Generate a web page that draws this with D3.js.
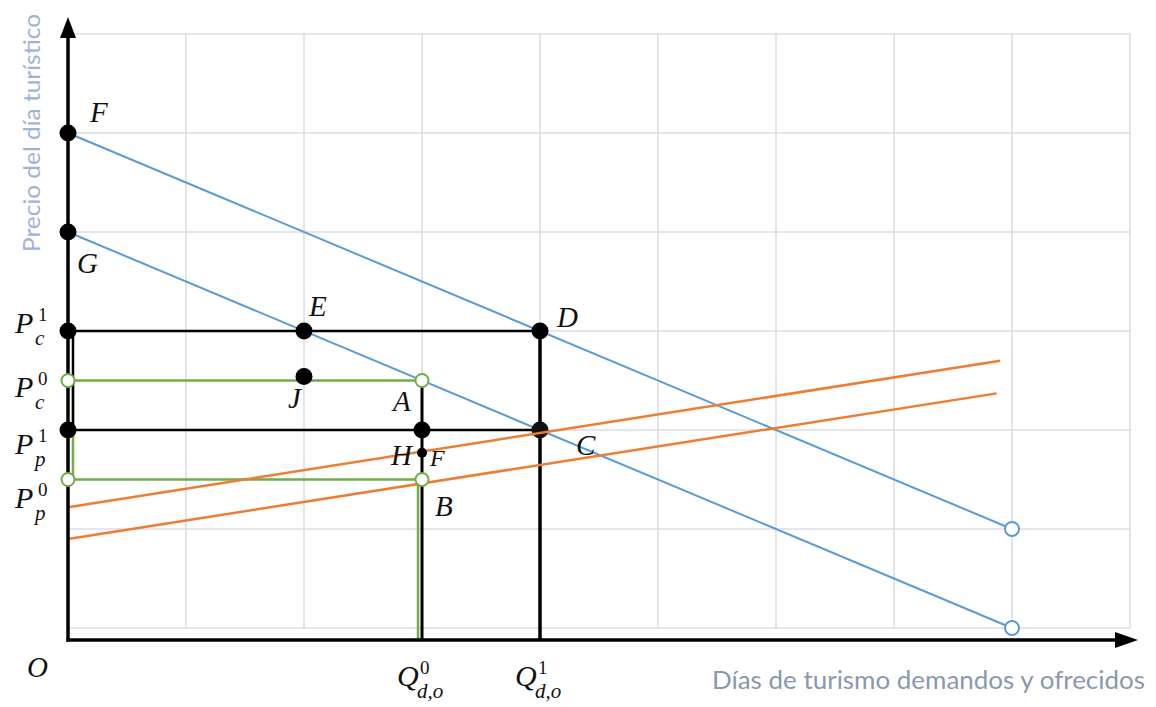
<!DOCTYPE html>
<html>
<head>
<meta charset="utf-8">
<script src="https://cdn.jsdelivr.net/npm/d3@7"></script>
<style>
  html, body { margin: 0; padding: 0; background: #fff; }
  svg { display: block; }
  .math { font-family: "Liberation Serif", "DejaVu Serif", serif; font-style: italic; fill: #111; }
</style>
</head>
<body>
<script>
// grid ticks (data units)
let xTicks = [0, 1, 2, 3, 4, 5, 6, 7, 8, 9]
let yTicks = [0, 1, 2, 3, 4, 5, 6]

// demand curves (blue) and supply curves (orange)
let demandHigh = [[0, 5], [8, 1]]
let demandLow = [[0, 4], [8, 0]]
let supplyHigh = [[0, 1.22], [7.9, 2.7]]
let supplyLow = [[0, 0.9], [7.87, 2.37]]

// equilibrium prices / quantities
let priceC1 = 3, priceC0 = 2.5, priceP1 = 2, priceP0 = 1.5
let qty0 = 3, qty1 = 4

// points
let filledDots = [[0, 5], [0, 4], [0, 3], [2, 3], [4, 3], [0, 2], [3, 2], [2, 2.54]]
let dotC = [4, 2]
let dotH = [3, 1.77]
let openGreen = [[0, priceC0], [qty0, priceC0], [0, priceP0], [qty0, priceP0]]
let openBlue = [[8, 1], [8, 0]]

// point labels
let pointLabels = [
  { t: 'F', at: [0, 5] }, { t: 'G', at: [0, 4] }, { t: 'E', at: [2, 3] },
  { t: 'D', at: [4, 3] }, { t: 'A', at: [3, 2.5] }, { t: 'J', at: [2, 2.54] },
  { t: 'C', at: [4, 2] }, { t: 'B', at: [3, 1.5] }, { t: 'H', at: [3, 1.77] }
]
let priceLabels = [
  { main: 'P', sup: '1', sub: 'c', v: priceC1 },
  { main: 'P', sup: '0', sub: 'c', v: priceC0 },
  { main: 'P', sup: '1', sub: 'p', v: priceP1 },
  { main: 'P', sup: '0', sub: 'p', v: priceP0 }
]
let qtyLabels = [
  { main: 'Q', sup: '0', sub: 'd,o', v: qty0 },
  { main: 'Q', sup: '1', sub: 'd,o', v: qty1 }
]
let xTitle = 'Días de turismo demandos y ofrecidos'
let yTitle = 'Precio del día turístico'

let width = 1156, height = 707
let blue = '#5b9bd5', orange = '#ed7d31', green = '#70ad47'

let x = d3.scaleLinear().domain([0, 9]).range([68, 1130])
let y = d3.scaleLinear().domain([0, 6]).range([628, 34])
let axisY = y(0) + 12

let svg = d3.select('body').append('svg')
  .attr('width', width).attr('height', height)

// grid
let grid = svg.append('g').attr('stroke', '#dcdce4').attr('stroke-width', 1.6)
grid.selectAll('.v').data(xTicks.slice(1)).enter().append('line')
  .attr('x1', d => x(d)).attr('x2', d => x(d))
  .attr('y1', y(0)).attr('y2', y(6))
grid.selectAll('.h').data(yTicks).enter().append('line')
  .attr('x1', x(0)).attr('x2', x(9))
  .attr('y1', d => y(d)).attr('y2', d => y(d))

let line = d3.line().x(d => x(d[0])).y(d => y(d[1]))

// green guides
let g = svg.append('g').attr('stroke', green).attr('stroke-width', 2.5).attr('fill', 'none')
g.append('line').attr('x1', x(0)).attr('x2', x(qty0)).attr('y1', y(priceC0)).attr('y2', y(priceC0))
g.append('line').attr('x1', x(0)).attr('x2', x(qty0)).attr('y1', y(priceP0)).attr('y2', y(priceP0))
g.append('line').attr('x1', x(0) + 5).attr('x2', x(0) + 5).attr('y1', y(priceC0)).attr('y2', y(priceP0))
g.append('line').attr('x1', x(qty0) - 4).attr('x2', x(qty0) - 4).attr('y1', y(priceP0)).attr('y2', axisY)

// black guides
let k = svg.append('g').attr('stroke', '#000').attr('fill', 'none')
k.append('line').attr('stroke-width', 2.5).attr('x1', x(0)).attr('x2', x(qty1)).attr('y1', y(priceC1)).attr('y2', y(priceC1))
k.append('line').attr('stroke-width', 2.5).attr('x1', x(0)).attr('x2', x(qty1)).attr('y1', y(priceP1)).attr('y2', y(priceP1))
k.append('line').attr('stroke-width', 2.5).attr('x1', x(0) + 5).attr('x2', x(0) + 5).attr('y1', y(priceC1)).attr('y2', y(priceP1))
k.append('line').attr('stroke-width', 3).attr('x1', x(qty0)).attr('x2', x(qty0)).attr('y1', y(priceC0)).attr('y2', axisY)
k.append('line').attr('stroke-width', 3.5).attr('x1', x(qty1)).attr('x2', x(qty1)).attr('y1', y(priceC1)).attr('y2', axisY)

// demand
svg.selectAll('.dem').data([demandHigh, demandLow]).enter().append('path')
  .attr('d', line).attr('fill', 'none').attr('stroke', blue).attr('stroke-width', 2)

// dot C sits under the supply line
svg.append('circle').attr('cx', x(dotC[0])).attr('cy', y(dotC[1])).attr('r', 8.5).attr('fill', '#111')

// supply
svg.selectAll('.sup').data([supplyHigh, supplyLow]).enter().append('path')
  .attr('d', line).attr('fill', 'none').attr('stroke', orange).attr('stroke-width', 2.5)

// axes
let ax = svg.append('g')
ax.append('line').attr('x1', x(0)).attr('x2', x(0)).attr('y1', axisY + 1.5).attr('y2', 30)
  .attr('stroke', '#000').attr('stroke-width', 3.5)
ax.append('path').attr('d', `M${x(0)},17 L${x(0) - 8},38 L${x(0) + 8},38 Z`).attr('fill', '#000')
ax.append('line').attr('x1', x(0) - 1.5).attr('x2', 1122).attr('y1', axisY).attr('y2', axisY)
  .attr('stroke', '#000').attr('stroke-width', 3.5)
ax.append('path').attr('d', `M1138,${axisY} L1115,${axisY - 8} L1115,${axisY + 8} Z`).attr('fill', '#000')

// open circles
svg.selectAll('.og').data(openGreen).enter().append('circle')
  .attr('cx', d => x(d[0])).attr('cy', d => y(d[1])).attr('r', 6.5)
  .attr('fill', '#fff').attr('stroke', green).attr('stroke-width', 2)
svg.selectAll('.ob').data(openBlue).enter().append('circle')
  .attr('cx', d => x(d[0])).attr('cy', d => y(d[1])).attr('r', 7)
  .attr('fill', '#fff').attr('stroke', blue).attr('stroke-width', 2)

// filled dots
svg.selectAll('.fd').data(filledDots).enter().append('circle')
  .attr('cx', d => x(d[0])).attr('cy', d => y(d[1])).attr('r', 8.5).attr('fill', '#000')
svg.append('circle').attr('cx', x(dotH[0])).attr('cy', y(dotH[1])).attr('r', 5).attr('fill', '#000')

// point labels
let labelOffset = {
  F: [22, -11], G: [9, 41], E: [5, -15], D: [17, -4], A: [-29, 30],
  J: [-16, 31], C: [36, 25], B: [13, 36], H: [-31, 12]
}
svg.selectAll('.pl').data(pointLabels).enter().append('text')
  .attr('class', 'math').attr('font-size', 29)
  .attr('x', d => x(d.at[0]) + labelOffset[d.t][0])
  .attr('y', d => y(d.at[1]) + labelOffset[d.t][1])
  .text(d => d.t)
// small F next to H
svg.append('text').attr('class', 'math').attr('font-size', 24)
  .attr('x', x(dotH[0]) + 8).attr('y', y(dotH[1]) + 13).text('F')

// origin
svg.append('text').attr('class', 'math').attr('font-size', 29)
  .attr('x', 27).attr('y', 677).text('O')

// sub/superscript labels
let mathLabel = (sel, d, px, py) => {
  let t = sel.append('g').attr('transform', `translate(${px},${py})`)
  t.append('text').attr('class', 'math').attr('font-size', 30).text(d.main)
  t.append('text').attr('class', 'math').style('font-style', 'normal').attr('font-size', 19)
    .attr('x', 23).attr('y', -12).text(d.sup)
  t.append('text').attr('class', 'math').attr('font-size', 21)
    .attr('x', 20).attr('y', 12).text(d.sub)
}
let priceShift = [2, 16, 24, 28]
priceLabels.forEach((d, i) => mathLabel(svg, d, 15, y(d.v) + priceShift[i]))
qtyLabels.forEach(d => mathLabel(svg, d, x(d.v) - 25, 686))

// axis titles
svg.append('text')
  .attr('x', 712).attr('y', 689)
  .attr('font-family', 'Lato, "Open Sans", sans-serif').attr('font-size', 25)
  .attr('fill', '#8898b2')
  .attr('textLength', 433).attr('lengthAdjust', 'spacingAndGlyphs')
  .text(xTitle)
svg.append('text')
  .attr('transform', 'translate(40,252) rotate(-90)')
  .attr('font-family', 'Lato, "Open Sans", sans-serif').attr('font-size', 23)
  .attr('fill', '#9fb3d6')
  .attr('textLength', 238).attr('lengthAdjust', 'spacingAndGlyphs')
  .text(yTitle)
</script>
</body>
</html>
